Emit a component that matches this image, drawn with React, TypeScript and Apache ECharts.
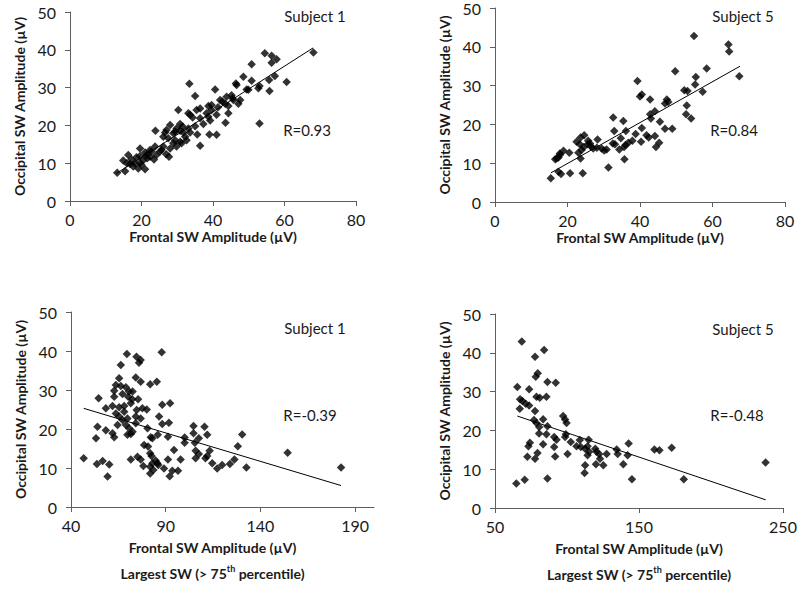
import React, { useEffect, useRef } from "react";
import * as echarts from "echarts";

// ---- tick labels ----
const yTicks = [0, 10, 20, 30, 40, 50];
const xTicksAll = [0, 20, 40, 60, 80];
const xTicksS1Large = [40, 90, 140, 190];
const xTicksS5Large = [50, 150, 250];

// ---- titles / annotations ----
const yTitle = "Occipital SW Amplitude (µV)";
const xTitleAll = "Frontal SW Amplitude (µV)";
const xTitleLarge = "Frontal SW Amplitude (µV)\nLargest SW (> 75{sup|th} percentile)";
const subjects = ["Subject 1", "Subject 5", "Subject 1", "Subject 5"];
const rValues = ["R=0.93", "R=0.84", "R=-0.39", "R=-0.48"];

// ---- Subject 1, all slow waves: [frontal, occipital] ----
const s1All = [
  [68.1, 39.3], [54.5, 39.1], [56.4, 38.4], [57.8, 37.5], [56.4, 36.6], [50.8, 36.2], [48.5, 32.9],
  [57.3, 33.1], [55.7, 32.0], [60.6, 31.5], [50.8, 31.8], [33.4, 31.0], [40.6, 29.5], [46.4, 31.1],
  [46.6, 30.7], [52.7, 29.8], [55.8, 29.1], [49.4, 29.5], [49.9, 29.4], [35.0, 27.8], [45.2, 28.0],
  [45.5, 27.2], [47.6, 26.7], [42.6, 26.3], [43.4, 25.7], [47.1, 25.7], [44.3, 25.1], [41.4, 24.8],
  [39.6, 25.4], [38.7, 25.1], [53.0, 20.5], [36.4, 24.5], [38.2, 23.2], [41.0, 22.8], [44.3, 23.2],
  [30.3, 24.1], [33.1, 23.2], [33.6, 22.8], [34.3, 22.1], [36.4, 21.9], [38.7, 22.3], [43.5, 20.7],
  [39.2, 21.3], [37.3, 20.4], [35.0, 19.8], [33.1, 19.2], [30.8, 20.4], [31.5, 19.7], [29.8, 19.2],
  [28.0, 20.1], [27.0, 18.8], [26.6, 18.1], [28.9, 17.9], [30.8, 18.6], [31.7, 18.1], [33.6, 18.1],
  [35.6, 17.6], [39.0, 17.6], [41.0, 17.5], [23.9, 18.6], [26.1, 17.0], [27.5, 16.6], [29.4, 16.1],
  [30.8, 15.7], [32.6, 16.1], [28.9, 15.3], [31.2, 15.3], [36.4, 14.6], [26.1, 14.4], [23.8, 14.4],
  [22.4, 13.5], [21.0, 12.8], [19.6, 13.9], [21.4, 12.2], [24.2, 12.2], [26.9, 12.4], [27.7, 11.7],
  [23.5, 11.0], [21.6, 11.3], [19.6, 11.9], [18.6, 11.6], [17.2, 11.0], [16.3, 12.2], [14.9, 10.7],
  [15.9, 10.0], [16.8, 9.8], [18.2, 10.0], [19.6, 10.1], [17.7, 9.1], [20.0, 9.5], [21.0, 8.4],
  [15.4, 7.9], [13.2, 7.5], [19.1, 8.6], [22.8, 13.1], [25.2, 13.1], [25.6, 13.5], [28.0, 13.9],
  [29.8, 14.4], [35.4, 24.1], [42.0, 26.7], [43.8, 27.6], [20.5, 10.8], [22.4, 11.7], [29.4, 18.3],
  [32.2, 17.0], [39.6, 24.1], [45.7, 26.7], [53.0, 30.4],
];
const s1AllFit = [[13.0, 7.3], [68.0, 40.5]];

// ---- Subject 5, all slow waves ----
const s5All = [
  [54.9, 42.8], [64.4, 40.6], [64.6, 38.8], [58.4, 34.4], [49.7, 33.7], [67.4, 32.4], [55.4, 32.2],
  [39.3, 31.2], [55.2, 30.3], [52.2, 28.8], [53.1, 28.6], [57.3, 28.4], [40.0, 27.2], [40.5, 27.7],
  [42.8, 26.4], [47.4, 26.4], [47.8, 25.8], [46.9, 25.4], [52.9, 24.9], [52.7, 22.6], [54.1, 21.5],
  [44.1, 23.4], [42.8, 22.6], [43.0, 21.5], [45.5, 20.7], [46.9, 18.9], [48.9, 18.9], [40.5, 19.1],
  [38.8, 17.5], [41.8, 17.2], [42.4, 16.6], [44.1, 17.0], [45.3, 15.3], [44.4, 14.2], [40.3, 15.5],
  [37.9, 15.8], [36.8, 15.3], [36.0, 14.7], [35.6, 14.2], [36.1, 18.3], [35.4, 20.9], [34.7, 16.4],
  [34.3, 13.5], [32.6, 21.8], [32.9, 18.3], [32.5, 15.1], [33.1, 14.9], [35.7, 11.0], [31.3, 8.9],
  [30.8, 13.5], [29.4, 13.8], [28.3, 16.1], [27.1, 13.8], [26.2, 15.1], [26.4, 14.4], [25.7, 15.8],
  [24.6, 17.2], [23.6, 16.6], [23.4, 14.9], [22.5, 15.5], [24.5, 14.2], [23.9, 13.4], [23.0, 12.7],
  [23.6, 11.2], [20.5, 12.7], [18.9, 13.2], [17.9, 12.5], [17.0, 11.2], [17.9, 12.1], [17.5, 11.5],
  [16.6, 11.0], [17.5, 7.8], [18.2, 7.2], [20.7, 7.4], [24.2, 7.4], [15.4, 6.1], [25.6, 14.9],
  [28.1, 14.0], [30.1, 13.3],
];
const s5AllFit = [[15.4, 7.5], [67.6, 35.0]];

// ---- Subject 1, largest slow waves ----
const s1Large = [
  [69.5, 39.2], [87.9, 39.7], [74.6, 38.5], [76.8, 37.7], [75.9, 37.0], [66.3, 36.4], [65.4, 33.0],
  [74.2, 33.2], [76.8, 32.1], [81.8, 31.5], [85.3, 32.1], [63.7, 31.3], [66.3, 31.0], [69.0, 30.7],
  [72.5, 29.6], [70.7, 29.6], [62.8, 29.8], [62.8, 28.3], [67.2, 29.0], [70.2, 28.3], [72.3, 27.6],
  [75.4, 27.6], [54.6, 27.9], [58.4, 25.3], [61.9, 25.9], [65.4, 25.6], [68.1, 25.9], [71.6, 26.6],
  [77.7, 25.3], [80.0, 25.0], [74.7, 24.9], [68.1, 24.4], [63.7, 24.0], [65.4, 23.2], [69.8, 22.7],
  [74.2, 23.2], [76.8, 22.7], [67.2, 22.3], [64.6, 21.0], [69.0, 21.0], [70.7, 20.2], [72.5, 19.3],
  [74.2, 21.5], [80.4, 20.2], [69.8, 18.5], [71.6, 18.7], [88.2, 26.2], [92.3, 26.6], [86.5, 23.2],
  [88.2, 21.3], [91.7, 21.6], [54.0, 20.6], [58.4, 19.7], [61.9, 18.9], [62.8, 17.9], [53.2, 17.6],
  [46.7, 12.5], [53.7, 11.0], [56.7, 11.8], [60.2, 10.9], [59.3, 7.8], [78.6, 15.9], [82.1, 17.9],
  [83.0, 17.6], [85.8, 18.5], [91.2, 18.0], [80.7, 15.5], [81.8, 13.8], [82.5, 13.1], [83.0, 11.2],
  [84.7, 11.9], [85.6, 11.2], [81.8, 10.3], [81.8, 8.6], [83.5, 9.5], [86.1, 10.8], [89.1, 9.9],
  [91.2, 12.2], [92.1, 7.9], [93.5, 9.3], [96.5, 9.3], [94.4, 14.6], [97.9, 12.2], [76.8, 12.2],
  [78.2, 10.5], [75.1, 12.9], [71.6, 12.2], [100.0, 17.8], [100.0, 16.5], [104.7, 20.8],
  [104.7, 18.9], [105.4, 16.5], [107.5, 17.6], [105.8, 14.4], [107.5, 13.6], [105.8, 12.5],
  [110.5, 20.6], [111.9, 18.5], [113.2, 14.4], [111.9, 13.1], [111.0, 12.5], [114.6, 11.2],
  [117.2, 9.9], [119.8, 10.8], [123.9, 11.0], [126.3, 12.2], [128.1, 15.6], [130.4, 18.6],
  [132.6, 10.1], [154.4, 13.9], [182.6, 10.1],
];
const s1LargeFit = [[46.7, 25.3], [182.6, 5.5]];

// ---- Subject 5, largest slow waves ----
const s5Large = [
  [68.6, 42.9], [84.1, 40.7], [77.8, 39.0], [79.7, 34.7], [78.3, 33.8], [86.4, 32.5], [92.2, 32.3],
  [65.5, 31.2], [73.7, 30.6], [78.8, 28.7], [81.1, 28.4], [85.7, 28.7], [67.4, 28.0], [69.0, 27.6],
  [71.3, 26.9], [73.7, 26.4], [67.2, 25.6], [77.8, 25.0], [83.4, 22.9], [97.3, 23.7], [98.7, 22.8],
  [99.7, 21.9], [78.8, 21.9], [80.7, 20.9], [86.4, 21.1], [85.7, 19.0], [91.1, 18.3], [92.7, 17.6],
  [99.2, 19.0], [98.7, 18.3], [102.6, 17.0], [108.9, 17.5], [115.0, 17.6], [106.6, 15.9],
  [109.6, 15.7], [112.6, 15.3], [114.3, 15.9], [115.4, 14.5], [114.3, 13.6], [119.6, 15.3],
  [120.5, 14.5], [122.3, 13.9], [127.5, 13.9], [120.1, 11.3], [125.2, 11.0], [122.9, 12.7],
  [134.5, 15.1], [135.2, 13.9], [142.8, 16.6], [142.1, 13.6], [139.1, 11.3], [145.1, 7.4],
  [160.7, 15.1], [164.2, 14.9], [172.7, 15.5], [181.1, 7.4], [237.9, 11.7], [73.2, 15.9],
  [74.2, 16.8], [72.5, 13.2], [77.8, 12.7], [79.5, 14.2], [83.4, 16.4], [91.1, 15.7], [91.8, 13.3],
  [100.4, 13.9], [77.1, 22.7], [86.4, 7.6], [70.6, 7.3], [64.8, 6.3], [112.6, 11.0], [112.2, 9.0],
  [80.6, 19.2],
];
const s5LargeFit = [[65.5, 23.7], [238.0, 2.1]];

const FONT = "Lato, 'Open Sans', sans-serif";
const TEXT = "#1a1a1a";
const AXIS = "#5e5e5e";

function makeX(gridIndex: number, min: number, max: number, ticks: number[], name: string, gap: number, twoLine: boolean, shift: number) {
  return {
    type: "value",
    gridIndex,
    min,
    max,
    splitLine: { show: false },
    axisLine: { show: true, onZero: false, lineStyle: { color: AXIS, width: 1 } },
    axisTick: { show: true, inside: false, length: 5, customValues: ticks, lineStyle: { color: AXIS, width: 1 } },
    axisLabel: { customValues: ticks, margin: 10, fontSize: 16, lineHeight: 16, color: TEXT, fontFamily: FONT },
    name,
    nameLocation: "middle",
    nameGap: gap,
    nameMoveOverlap: false,
    nameTextStyle: {
      fontFamily: FONT,
      fontWeight: "bold",
      fontSize: 14,
      color: TEXT,
      lineHeight: twoLine ? 26 : 14,
      padding: shift ? [0, shift, 0, 0] : 0,
      rich: {
        sup: { fontFamily: FONT, fontWeight: "bold", fontSize: 9, color: TEXT, padding: [0, 0, 9, 0] },
      },
    },
  };
}

function makeY(gridIndex: number) {
  return {
    type: "value",
    gridIndex,
    min: 0,
    max: 50,
    splitLine: { show: false },
    axisLine: { show: true, onZero: false, lineStyle: { color: AXIS, width: 1 } },
    axisTick: { show: true, inside: false, length: 5, customValues: yTicks, lineStyle: { color: AXIS, width: 1 } },
    axisLabel: { customValues: yTicks, margin: 14, fontSize: 16, color: TEXT, fontFamily: FONT },
    name: yTitle,
    nameLocation: "middle",
    nameGap: 44,
    nameMoveOverlap: false,
    nameTextStyle: { fontFamily: FONT, fontWeight: "bold", fontSize: 14, color: TEXT },
  };
}

function scatter(i: number, data: number[][]) {
  return {
    type: "scatter",
    xAxisIndex: i,
    yAxisIndex: i,
    data,
    symbol: "diamond",
    symbolSize: 8.5,
    itemStyle: { color: "#000" },
    silent: true,
  };
}

function fit(i: number, data: number[][]) {
  return {
    type: "line",
    xAxisIndex: i,
    yAxisIndex: i,
    data,
    symbol: "none",
    lineStyle: { color: "#000", width: 1 },
    silent: true,
  };
}

function label(x: number, y: number, text: string) {
  return {
    type: "text",
    x,
    y,
    style: {
      text,
      font: `15px ${FONT}`,
      fill: TEXT,
      align: "center",
      verticalAlign: "middle",
      textAlign: "center",
      textVerticalAlign: "middle",
    },
  };
}

export default function App() {
  const ref = useRef<HTMLDivElement>(null);
  useEffect(() => {
    const chart = echarts.init(ref.current!, null, { renderer: "svg" });
    chart.setOption({
      animation: false,
      backgroundColor: "#fff",
      grid: [
        { left: 70, top: 12, width: 286, height: 189 },
        { left: 495, top: 8, width: 290, height: 194 },
        { left: 71, top: 312, width: 303, height: 195 },
        { left: 495, top: 314, width: 288, height: 194 },
      ],
      xAxis: [
        makeX(0, 0, 80, xTicksAll, xTitleAll, 28, false, 0),
        makeX(1, 0, 80, xTicksAll, xTitleAll, 28, false, 0),
        makeX(2, 40, 200, xTicksS1Large, xTitleLarge, 27, true, 20),
        makeX(3, 50, 250, xTicksS5Large, xTitleLarge, 27, true, 0),
      ],
      yAxis: [makeY(0), makeY(1), makeY(2), makeY(3)],
      series: [
        scatter(0, s1All), fit(0, s1AllFit),
        scatter(1, s5All), fit(1, s5AllFit),
        scatter(2, s1Large), fit(2, s1LargeFit),
        scatter(3, s5Large), fit(3, s5LargeFit),
      ],
      graphic: [
        label(315, 16, subjects[0]),
        label(307, 130, rValues[0]),
        label(743, 16, subjects[1]),
        label(734, 130, rValues[1]),
        label(315, 328, subjects[2]),
        label(310, 415, rValues[2]),
        label(743, 329, subjects[3]),
        label(737, 415, rValues[3]),
      ],
    });
    return () => chart.dispose();
  }, []);
  return (
    <div
      ref={ref}
      style={{ position: "fixed", left: 0, top: 0, width: 800, height: 596, background: "#fff" }}
    />
  );
}
